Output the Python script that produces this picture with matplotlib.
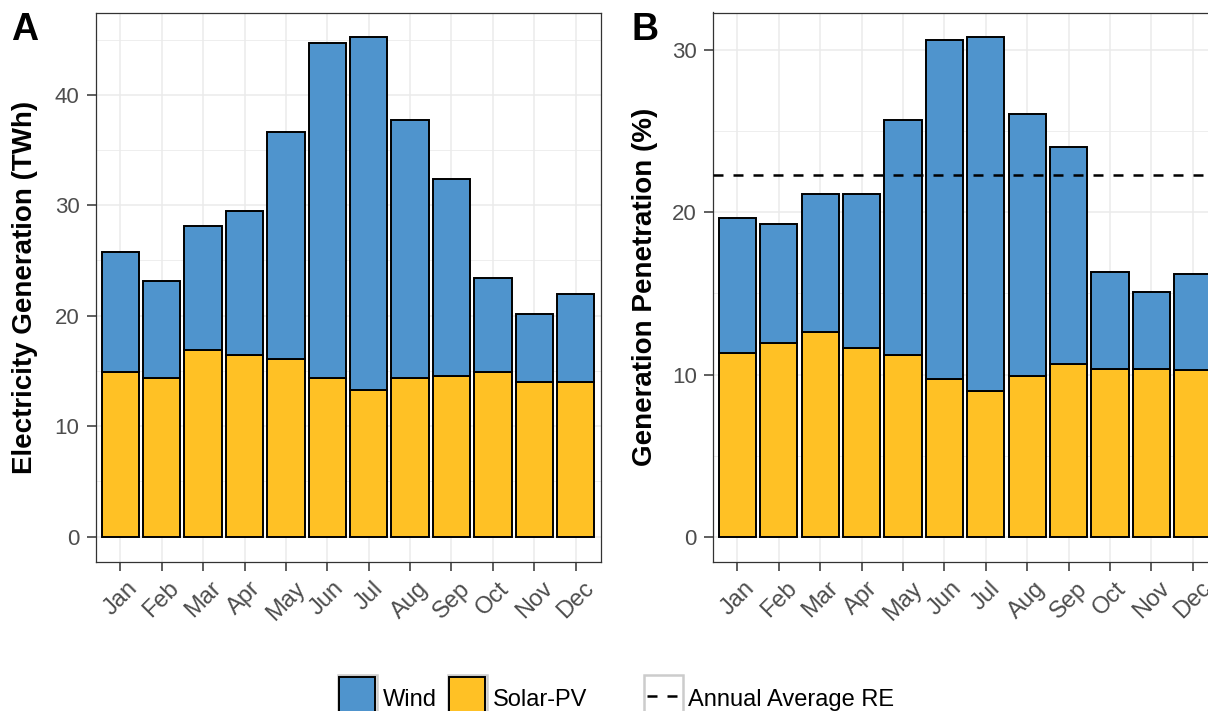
import matplotlib
matplotlib.use("Agg")
import matplotlib.pyplot as plt
import matplotlib.transforms as mtransforms
from matplotlib.patches import Rectangle
from matplotlib.lines import Line2D
from matplotlib.ticker import MultipleLocator
import numpy as np

plt.rcParams['font.family'] = ['Liberation Sans', 'DejaVu Sans']

months = ['Jan', 'Feb', 'Mar', 'Apr', 'May', 'Jun', 'Jul', 'Aug', 'Sep', 'Oct', 'Nov', 'Dec']

# Panel A: electricity generation (TWh)
gen_solar = [14.9, 14.4, 16.9, 16.4, 16.1, 14.4, 13.3, 14.4, 14.5, 14.9, 14.0, 14.0]
gen_wind = [10.9, 8.7, 11.2, 13.1, 20.5, 30.3, 31.9, 23.3, 17.9, 8.5, 6.2, 8.0]

# Panel B: generation penetration (%)
pen_solar = [11.32, 11.94, 12.64, 11.65, 11.19, 9.73, 8.97, 9.90, 10.62, 10.37, 10.37, 10.29]
pen_wind = [8.31, 7.32, 8.49, 9.48, 14.54, 20.90, 21.83, 16.16, 13.42, 5.96, 4.70, 5.94]
annual_avg_re = 22.3

series_names = ['Wind', 'Solar-PV']
wind_color = '#4F94CD'
solar_color = '#FFC125'
grid_color = '#EBEBEB'
tick_col = '#4D4D4D'

W, H = 1208, 711
fig = plt.figure(figsize=(W / 100, H / 100), dpi=100)

ax_h = 549 / H
ax_b = (H - 561.5) / H
ax_w = 505 / W
axA = fig.add_axes([95.5 / W, ax_b, ax_w, ax_h])
axB = fig.add_axes([712.6 / W, ax_b, ax_w, ax_h])

x = np.arange(len(months))
shift = mtransforms.ScaledTranslation(-4 / 100, 0, fig.dpi_scale_trans)


def style(ax, solar, wind, major, ylabel, label_x):
    total = np.array(solar) + np.array(wind)
    ax.bar(x, solar, width=0.9, color=solar_color, edgecolor='black', linewidth=1.4, zorder=3)
    ax.bar(x, wind, bottom=solar, width=0.9, color=wind_color, edgecolor='black', linewidth=1.4, zorder=3)
    ymax = total.max()
    ax.set_ylim(-0.05 * ymax, 1.05 * ymax)
    ax.set_xlim(-0.6, len(months) - 0.4)
    ax.yaxis.set_major_locator(MultipleLocator(major))
    ax.yaxis.set_minor_locator(MultipleLocator(major / 2))
    ax.set_xticks(x)
    ax.set_xticklabels(months, rotation=45, ha='center', va='top', fontsize=17)
    for lab in ax.get_xticklabels():
        lab.set_transform(lab.get_transform() + shift)
    ax.grid(which='major', color=grid_color, linewidth=1.1, zorder=0)
    ax.grid(which='minor', axis='y', color=grid_color, linewidth=0.6, zorder=0)
    ax.set_axisbelow(True)
    ax.tick_params(axis='both', which='major', length=6.5, width=1.1, color='#333333',
                   labelcolor=tick_col, pad=5)
    ax.tick_params(axis='y', labelsize=16)
    ax.tick_params(axis='x', pad=5)
    ax.tick_params(which='minor', length=0)
    for s in ax.spines.values():
        s.set_color('#333333')
        s.set_linewidth(0.9)
    ax.set_ylabel(ylabel, fontsize=20, fontweight='bold', color='black')
    ax.yaxis.set_label_coords(label_x, 0.5)


style(axA, gen_solar, gen_wind, 10, 'Electricity Generation (TWh)', -0.114)
style(axB, pen_solar, pen_wind, 10, 'Generation Penetration (%)', -0.108)
axB.axhline(annual_avg_re, color='black', linewidth=1.8, linestyle=(0, (4, 4)), zorder=4)

fig.text(11 / W, (H - 40) / H, 'A', fontsize=27, fontweight='bold', ha='left', va='baseline')
fig.text(631 / W, (H - 40) / H, 'B', fontsize=27, fontweight='bold', ha='left', va='baseline')

# Legend drawn in pixel coordinates
lg = fig.add_axes([0, 0, 1, 1], zorder=10)
lg.set_xlim(0, W)
lg.set_ylim(H, 0)
lg.axis('off')
lg.patch.set_alpha(0)

key = 39
ky = 675
for kx, col in [(337.5, wind_color), (447.5, solar_color)]:
    lg.add_patch(Rectangle((kx, ky), key, key, facecolor='white', edgecolor='#CCCCCC', linewidth=1.8))
    lg.add_patch(Rectangle((kx + 1.8, ky + 1.8), key - 3.6, key - 3.6, facecolor=col,
                           edgecolor='black', linewidth=1.4))
lx = 643.5
lg.add_patch(Rectangle((lx, ky), key, key, facecolor='white', edgecolor='#CCCCCC', linewidth=1.8))
lg.add_line(Line2D([lx + 3, lx + key - 3], [ky + key / 2 + 1, ky + key / 2 + 1], color='black',
                   linewidth=1.8, linestyle=(0, (4, 4))))
for tx, t in [(383, series_names[0]), (493, series_names[1]), (688, 'Annual Average RE')]:
    lg.text(tx, 706, t, fontsize=17, ha='left', va='baseline', color='black')

fig.savefig('out.png', dpi=100)
